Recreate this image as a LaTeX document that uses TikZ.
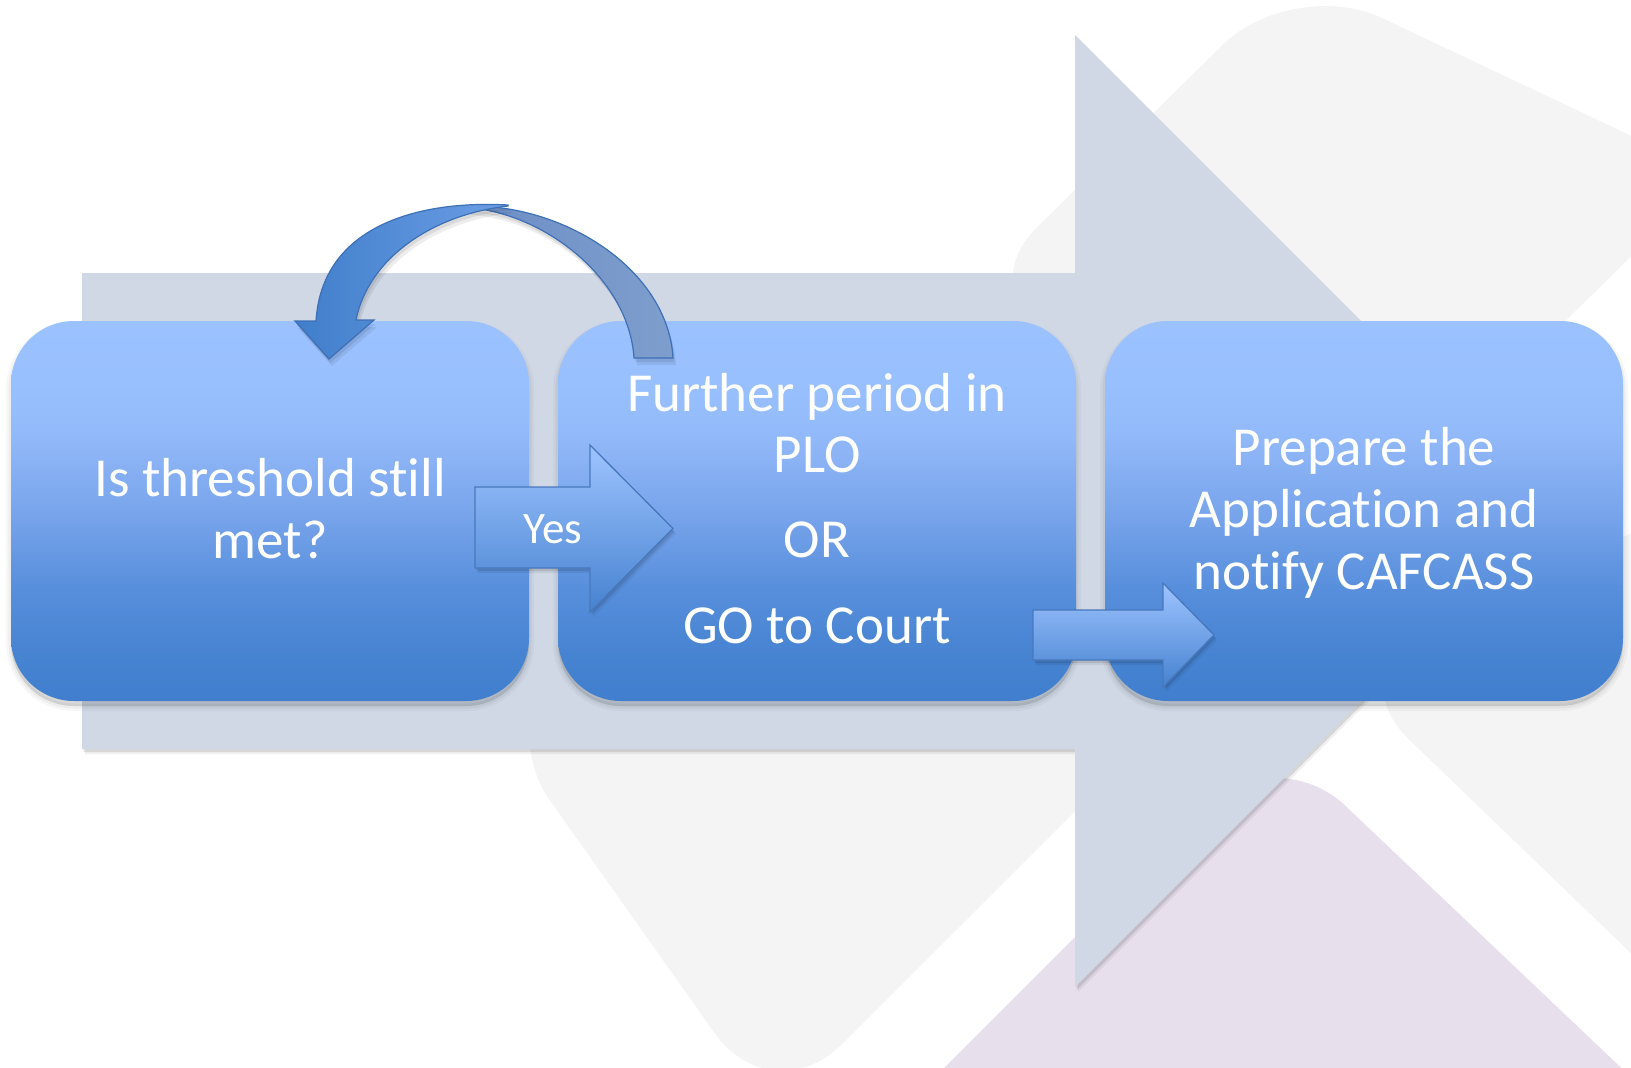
\documentclass[tikz,border=0pt]{standalone}
\usepackage{fontspec}
\setmainfont{Carlito}[Ligatures={NoCommon,NoDiscretionary,NoContextual}]
\usetikzlibrary{shadows}

\definecolor{flowband}{RGB}{208,216,230}
\definecolor{tilegray}{RGB}{244,244,244}
\definecolor{tilelilac}{RGB}{232,223,237}
\definecolor{arrowedge}{RGB}{72,120,188}
\definecolor{lightblue}{RGB}{158,196,255}
\definecolor{deepblue}{RGB}{70,130,208}
\definecolor{loopfront}{RGB}{64,126,203}
\definecolor{loopfrontlight}{RGB}{108,158,228}
\definecolor{loopback}{RGB}{108,142,197}
\definecolor{loopbacklight}{RGB}{126,158,205}
\definecolor{loopedge}{RGB}{62,112,182}

% vertical gradient of the three step boxes (light top, deep blue bottom)
\pgfdeclareverticalshading{stepfill}{100bp}{rgb(0bp)=(0.255,0.498,0.808); rgb(25bp)=(0.255,0.498,0.808); rgb(31bp)=(0.275,0.514,0.82); rgb(40bp)=(0.345,0.561,0.863); rgb(50bp)=(0.475,0.647,0.925); rgb(60bp)=(0.573,0.725,0.976); rgb(67bp)=(0.6,0.753,0.996); rgb(75bp)=(0.608,0.761,1); rgb(100bp)=(0.608,0.761,1)}

\tikzset{
  softshadow/.style={
    general shadow={fill=black, draw=black, line width=10pt, opacity=0.03, shadow yshift=-5pt},
    general shadow={fill=black, draw=black, line width=5pt, opacity=0.04, shadow yshift=-5pt},
    general shadow={fill=black, opacity=0.05, shadow yshift=-5pt}},
  thinshadow/.style={
    general shadow={fill=black, opacity=0.06, shadow xshift=3pt, shadow yshift=-5pt},
    general shadow={fill=black, opacity=0.10, shadow xshift=1.5pt, shadow yshift=-3pt}},
  loopshadow/.style={
    general shadow={fill=black, opacity=0.07, shadow xshift=3pt, shadow yshift=-7pt},
    general shadow={fill=black, opacity=0.08, shadow xshift=1.5pt, shadow yshift=-4pt}},
  tile/.style={rounded corners=98pt},
  stepbox/.style={rectangle, rounded corners=63pt, minimum width=518pt,
    minimum height=380pt, inner sep=0pt, shade, shading=stepfill, softshadow},
  lbl/.style={text=white, font=\fontsize{55}{62}\selectfont, inner sep=0pt, anchor=base},
  blockarrow/.style={top color=lightblue, bottom color=deepblue, draw=arrowedge,
    line width=1.3pt, line join=miter, thinshadow}
}

\begin{document}
\begin{tikzpicture}[x=1pt, y=-1pt]
\useasboundingbox (0,0) rectangle (1631,1068);
\fill[white] (0,0) rectangle (1631,1068);

% decorative background tiles
\fill[tilegray, tile] (1293,-24) -- (1714,175) -- (1388,495) -- (967,296) -- cycle;
\fill[tilegray, tile] (1338,671) -- (1938,389) -- (2300,800) -- (1938,1249) -- cycle;
\fill[tilegray, tile] (493,720) -- (901,312) -- (1180,706.5) -- (772,1114) -- cycle;
\fill[tilelilac, tile] (1274,738) -- (1774,1213) -- (1274,1700) -- (774,1238) -- cycle;

% wide process arrow behind the steps
\path[fill=flowband, thinshadow] (82,273) -- (1075,273) -- (1075,35) -- (1551,511)
  -- (1075,987) -- (1075,749) -- (82,749) -- cycle;

% the three steps
\node[stepbox] (b1) at (270,511) {};
\node[stepbox] (b2) at (817,511) {};
\node[stepbox] (b3) at (1364,511) {};

% loop-back arrow: back face of the ribbon
\path[left color=loopback, right color=loopbacklight, draw=loopedge, line width=1.2pt,
  loopshadow]
  (468,206) .. controls (565,204) and (668,270) .. (673,358)
  -- (634,358) .. controls (629,280) and (547,214) .. (468,207.5) -- cycle;

% loop-back arrow: front face with its head
\path[left color=loopfront, right color=loopfrontlight, draw=loopedge, line width=1.2pt,
  line join=miter, loopshadow]
  (295,321) -- (329,359) -- (374,320) -- (356,320)
  .. controls (368,260) and (430,215) .. (508,206)
  -- (508,205) .. controls (420,200) and (322,225) .. (316,321) -- cycle;

% block arrows between the steps
\path[blockarrow] (475,487) -- (590,487) -- (590,445) -- (673,528.5) -- (590,612)
  -- (590,568) -- (475,568) -- cycle;
\path[blockarrow] (1033,610) -- (1163,610) -- (1163,583) -- (1214,635) -- (1163,687)
  -- (1163,660) -- (1033,660) -- cycle;

% texts
\node[lbl] (t1a) at (270,496) {Is threshold still};
\node[lbl] (t1b) at (270,558) {met?};

\node[lbl] (t2a) at (817,411) {Further period in};
\node[lbl] (t2b) at (817,472) {PLO};
\node[lbl] (t2c) at (817,557) {OR};
\node[lbl] (t2d) at (817,643) {GO to Court};

\node[lbl] (t3a) at (1364,465) {Prepare the};
\node[lbl] (t3b) at (1364,527) {Application and};
\node[lbl] (t3c) at (1364,589) {notify CAFCASS};

\node[lbl, font=\fontsize{45}{54}\selectfont] (yes) at (553,543) {Yes};
\end{tikzpicture}
\end{document}
